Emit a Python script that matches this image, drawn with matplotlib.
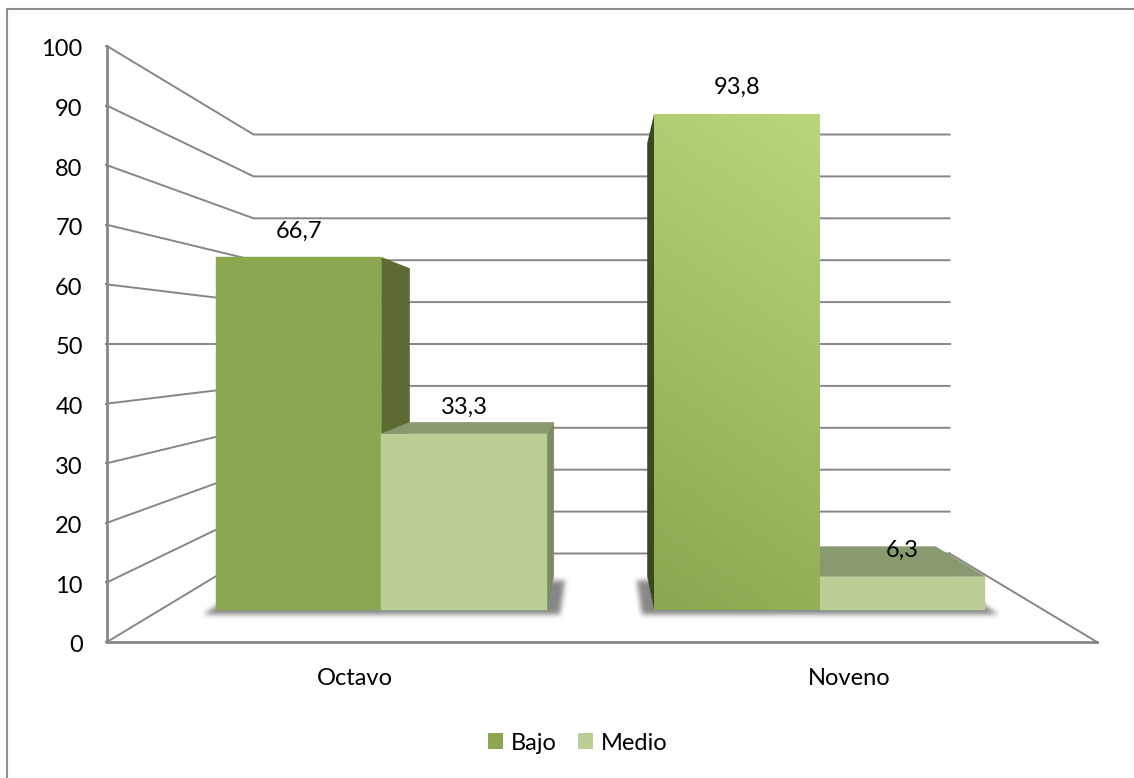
import numpy as np
import matplotlib
matplotlib.use("Agg")
import matplotlib.pyplot as plt
from matplotlib.lines import Line2D
from matplotlib.patches import Polygon, Rectangle
from matplotlib.path import Path
from matplotlib.colors import LinearSegmentedColormap
from matplotlib.transforms import ScaledTranslation

categories = ["Octavo", "Noveno"]
series_names = ["Bajo", "Medio"]
bajo = [66.7, 93.8]
medio = [33.3, 6.3]
labels_bajo = ["66,7", "93,8"]
labels_medio = ["33,3", "6,3"]
y_ticks = [0, 10, 20, 30, 40, 50, 60, 70, 80, 90, 100]

W, H = 1134, 778
GRID = "#868686"
BAJO = "#8BA74F"
MEDIO = "#BBCE96"

# depth of the box walls and bars, as fraction towards the centre of the view
VIEW_X, VIEW_Y = 0.997, 50
D_WALL = 0.297
D_FRONT = 0.113
D_BACK = 0.2275
BAR_W = 0.377
BAR_BASE = -0.3
GROUPS = [0.498, 1.4965]


def project(x, v, d):
    s = 1 - d
    return (VIEW_X + (x - VIEW_X) * s, VIEW_Y + (v - VIEW_Y) * s)


def bar_point(x, v, d):
    return project(x, v + BAR_BASE, d)


plt.rcParams["font.family"] = ["Lato", "DejaVu Sans"]
plt.rcParams["font.size"] = 17

fig = plt.figure(figsize=(W / 100, H / 100), dpi=100)
fig.patch.set_facecolor("white")
# outer frame, only top and left fall inside the canvas
fig.add_artist(Line2D([6.5 / W, 6.5 / W, 1], [0, 1 - 8.5 / H, 1 - 8.5 / H], transform=fig.transFigure,
                      color="#8e8e8e", lw=1.5))

ax = fig.add_axes([107 / W, 1 - 642 / H, 990 / W, 596 / H])
ax.patch.set_visible(False)
for side in ["top", "right"]:
    ax.spines[side].set_visible(False)
for side in ["left", "bottom"]:
    ax.spines[side].set_color(GRID)
    ax.spines[side].set_linewidth(2)
ax.set_yticks(y_ticks)
ax.set_xticks([0.5, 1.5], categories)
ax.tick_params(axis="y", length=1.5, width=1.4, color=GRID, pad=16)
ax.tick_params(axis="x", length=0, pad=19)
for t in ax.get_yticklabels():
    t.set_transform(t.get_transform() + ScaledTranslation(0, -2 / 100, fig.dpi_scale_trans))

# walls and floor of the box
for v in y_ticks:
    xa, ya = project(0, v, D_WALL)
    xb, yb = project(2, v, D_WALL)
    ax.plot([0, xa, xb], [v, ya, yb], color=GRID, lw=1.4, clip_on=False, zorder=1)
xb, yb = project(2, 0, D_WALL)
ax.plot([2, xb], [0, yb], color=GRID, lw=1.4, clip_on=False, zorder=1)


def poly(points, color, z):
    ax.add_patch(Polygon(points, closed=True, fc=color, ec=color, lw=0.3, clip_on=False, zorder=z))


def shadow(x0, x1):
    # blurred shadow of a bar group on the floor
    pad = 0.03
    pts = [bar_point(x0 - pad, -0.9, D_FRONT), bar_point(x1 + pad, -0.9, D_FRONT),
           bar_point(x1 + pad, -0.9, D_BACK), bar_point(x0 - pad, -0.9, D_BACK)]
    x_lo, x_hi = x0 - 0.09, x1 + 0.09
    v_lo, v_hi = -6, 20
    xs = np.linspace(x_lo, x_hi, int((x_hi - x_lo) * 495))
    vs = np.linspace(v_lo, v_hi, int((v_hi - v_lo) * 5.96))
    gx, gy = np.meshgrid(xs, vs)
    inside = Path(pts).contains_points(np.c_[gx.ravel(), gy.ravel()]).reshape(gx.shape).astype(float)
    kernel = np.ones(5) / 5
    for _ in range(3):
        inside = np.apply_along_axis(lambda r: np.convolve(r, kernel, mode="same"), 0, inside)
        inside = np.apply_along_axis(lambda r: np.convolve(r, kernel, mode="same"), 1, inside)
    rgba = np.zeros(inside.shape + (4,))
    rgba[..., :3] = 0.33
    rgba[..., 3] = inside * 0.7
    ax.imshow(rgba, origin="lower", extent=(x_lo, x_hi, v_lo, v_hi), aspect="auto", zorder=2,
              clip_on=False, interpolation="bilinear")


gradient = LinearSegmentedColormap.from_list("bar_green", ["#8AA64E", "#BAD67D"])

for i, cat in enumerate(categories):
    center = GROUPS[i]
    shadow(center - BAR_W, center + BAR_W)

    bars = [(center - BAR_W, bajo[i], BAJO), (center, medio[i], MEDIO)]
    # bars further from the middle of the view go first
    bars.sort(key=lambda b: -abs(b[0] + BAR_W / 2 - VIEW_X))
    for x0, val, color in bars:
        x1 = x0 + BAR_W
        is_bajo = color == BAJO
        # side face, on whichever side looks towards the middle
        xs = x1 if x1 < VIEW_X else x0
        side_color = ("#5B6B33" if x1 < VIEW_X else "#3C461F") if is_bajo else "#7D8A63"
        poly([bar_point(xs, 0, D_FRONT), bar_point(xs, val, D_FRONT),
              bar_point(xs, val, D_BACK), bar_point(xs, 0, D_BACK)], side_color, 3)
        # top face only shows below the eye level
        if val < VIEW_Y:
            poly([bar_point(x0, val, D_FRONT), bar_point(x1, val, D_FRONT),
                  bar_point(x1, val, D_BACK), bar_point(x0, val, D_BACK)], "#8A9A70", 3)
        front = [bar_point(x0, 0, D_FRONT), bar_point(x1, 0, D_FRONT),
                 bar_point(x1, val, D_FRONT), bar_point(x0, val, D_FRONT)]
        if is_bajo and i == 1:
            yy, xx = np.mgrid[0:1:80j, 0:1:80j]
            ax.imshow(0.82 * yy + 0.18 * xx, cmap=gradient, origin="lower", vmin=0, vmax=1,
                      extent=(front[0][0], front[1][0], front[0][1], front[2][1]),
                      aspect="auto", zorder=4, interpolation="bilinear", clip_on=False)
        else:
            poly(front, color, 4)

ax.set_xlim(0, 2)
ax.set_ylim(0, 100)

# value labels above the front face of each bar
for i in range(len(categories)):
    center = GROUPS[i]
    for x0, val, txt in [(center - BAR_W, bajo[i], labels_bajo[i]), (center, medio[i], labels_medio[i])]:
        ax.annotate(txt, bar_point(x0 + BAR_W / 2, val, D_FRONT), xytext=(0, 19), textcoords="offset points",
                    ha="center", va="center", color="black", zorder=6, annotation_clip=False)

handles = [Rectangle((0, 0), 1, 1, fc=BAJO, ec="none"), Rectangle((0, 0), 1, 1, fc=MEDIO, ec="none")]
fig.legend(handles, series_names, loc="center", bbox_to_anchor=(578 / W, 1 - 743 / H), ncol=2,
           frameon=False, handlelength=0.635, handleheight=0.635, handletextpad=0.34, columnspacing=0.89,
           borderpad=0)

fig.savefig("out.png", dpi=100)
